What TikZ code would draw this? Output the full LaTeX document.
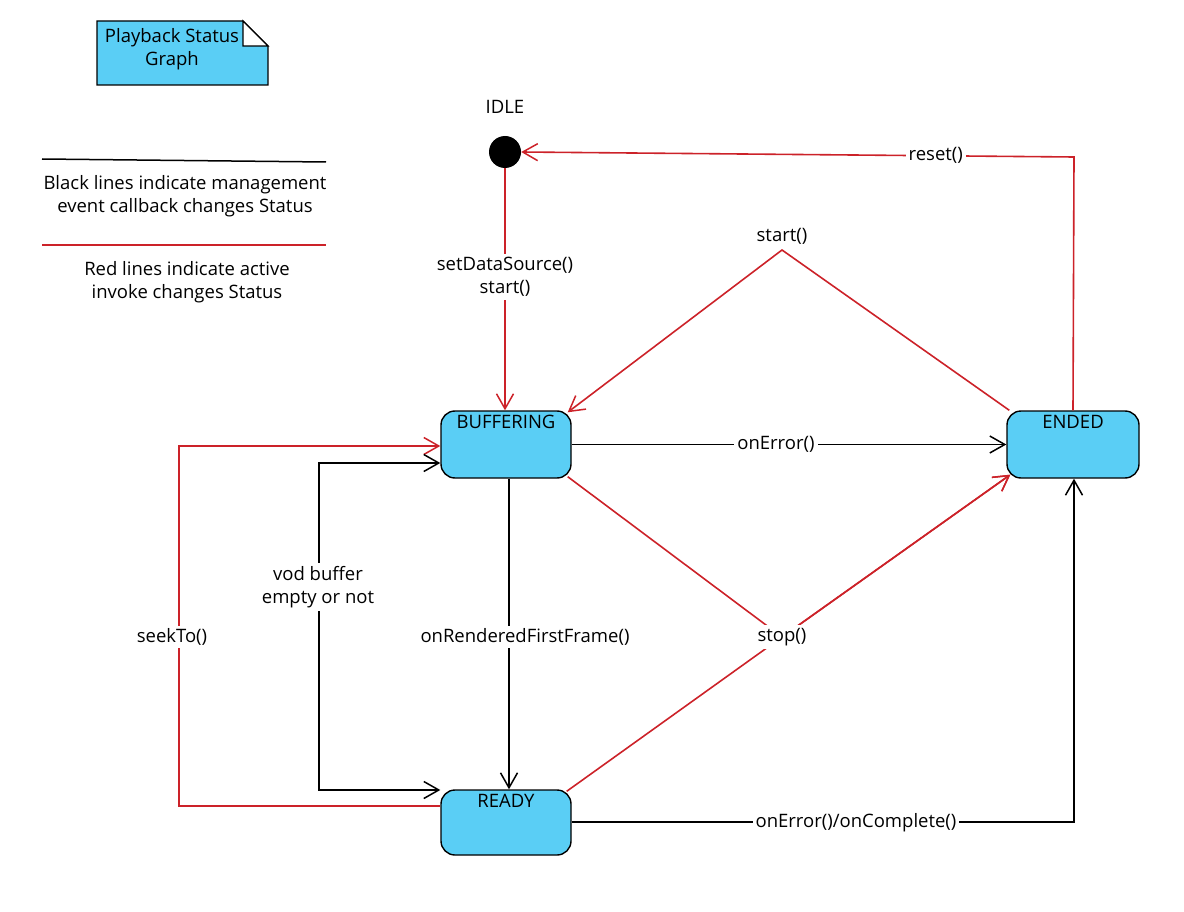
\documentclass[tikz,border=0pt]{standalone}
\usepackage{fontspec}
\setmainfont{Open Sans}
\usetikzlibrary{arrows.meta,calc}
\definecolor{boxblue}{RGB}{90,206,245}
\definecolor{lred}{RGB}{204,34,41}
\tikzset{
  state/.style={draw=black, line width=1.4pt, fill=boxblue, rounded corners=14pt, minimum width=130pt, minimum height=67pt, inner sep=0pt},
  stlabel/.style={anchor=north, inner sep=0pt, font=\fontsize{18.5}{22}\selectfont},
  redline/.style={draw=lred, line width=1.6pt},
  blkline/.style={draw=black, line width=1.5pt},
  tip/.style={-{Straight Barb[length=15pt,width=17pt,line width=1.5pt]}},
  lbl/.style={fill=white, inner sep=3pt, align=center, font=\fontsize{18.5}{23}\selectfont},
  txt/.style={align=center, inner sep=0pt, font=\fontsize{18.5}{23}\selectfont}
}
\begin{document}
\begin{tikzpicture}[x=1pt,y=-1pt]
\useasboundingbox (0,0) rectangle (1184,912);
% note
\draw[line width=1.3pt, fill=boxblue] (97,21) -- (243,21) -- (268,46) -- (268,85) -- (97,85) -- cycle;
\draw[line width=1.3pt, fill=white] (243,21) -- (243,46) -- (268,46) -- cycle;
\node[txt] (note) at (172,49) {Playback Status\\Graph};
% legend
\coordinate (lb1) at (42,159); \coordinate (lb2) at (326,162);
\draw[blkline] (lb1) -- (lb2);
\node[txt] (legb) at (185,196) {Black lines indicate management\\event callback changes Status};
\coordinate (lr1) at (42,245); \coordinate (lr2) at (326,245);
\draw[redline] (lr1) -- (lr2);
\node[txt] (legr) at (187,282) {Red lines indicate active\\invoke changes Status};
% states
\node[circle, fill=black, minimum size=32pt, inner sep=0pt] (idle) at (505,152) {};
\node[txt] (idlel) at (505,107) {IDLE};
\node[state] (buf) at (506,444.5) {};
\node[stlabel] at ($(buf.north)+(0,5)$) {BUFFERING};
\node[state, minimum width=132pt] (ended) at (1073,444.5) {};
\node[stlabel] at ($(ended.north)+(0,5)$) {ENDED};
\node[state, minimum height=65pt] (ready) at (506,822.5) {};
\node[stlabel] at ($(ready.north)+(0,5)$) {READY};
% coordinates
\coordinate (apex) at (782,250);
\coordinate (stopc) at (782,637);
\coordinate (seekL) at (179,806);
\coordinate (seekT) at (179,446);
\coordinate (vodT) at (319,463);
\coordinate (vodB) at (319,790);
\coordinate (rcorner) at (1074,822);
\coordinate (rstcorner) at (1074,157);
% red: idle -> buffering
\draw[redline, tip] (idle.south) -- (idle.south |- buf.north) node[lbl, pos=0.45] {setDataSource()\\start()};
% red: reset
\draw[redline, tip] (ended.north) -- (rstcorner) -- (idle.east) node[lbl, pos=0.25] {reset()};
% red: start
\draw[redline, tip] ($(ended.north west)+(3,0)$) -- (apex) -- ($(buf.north east)+(-4,2)$);
\node[txt, anchor=south] (startl) at ($(apex)+(0,-5)$) {start()};
% black: onError
\draw[blkline, tip] (buf.east) -- (ended.west) node[lbl, pos=0.47] {onError()};
% black: buffering -> ready
\draw[blkline, tip] ($(buf.south)+(3,0)$) -- ($(ready.north)+(3,0)$);
\node[lbl] (orff) at (525,637) {onRenderedFirstFrame()};
% red: stop
\draw[redline, tip] ($(buf.south east)+(-4,-2)$) -- (stopc) -- ($(ended.south west)+(4,-4)$);
\draw[redline, tip] ($(ready.north east)+(-5,2)$) -- (stopc) -- ($(ended.south west)+(4,-4)$);
\node[lbl] (stopl) at (stopc) {stop()};
% red: seekTo
\draw[redline, tip] (ready.west |- seekL) -- (seekL) -- (seekT) -- (buf.west |- seekT);
\node[lbl] (seekl) at (172,637) {seekTo()};
% black: vod buffer
\draw[blkline, tip] (vodB) -- (vodT) -- (buf.west |- vodT);
\draw[blkline, tip] (vodT) -- (vodB) -- (ready.west |- vodB);
\node[lbl] (vodl) at (318,587) {vod buffer\\empty or not};
% black: onError()/onComplete()
\draw[blkline, tip] (ready.east |- rcorner) -- (rcorner) -- (ended.south -| rcorner);
\node[lbl] (oeoc) at (856,823) {onError()/onComplete()};
\end{tikzpicture}
\end{document}
